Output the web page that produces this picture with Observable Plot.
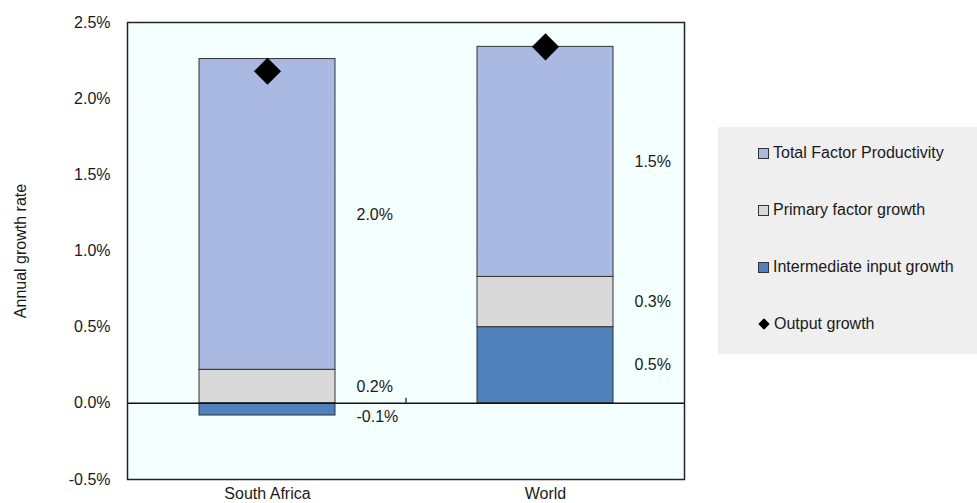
<!DOCTYPE html>
<html>
<head>
<meta charset="utf-8">
<script src="https://cdn.jsdelivr.net/npm/d3@7"></script>
<script src="https://cdn.jsdelivr.net/npm/@observablehq/plot@0.6"></script>
<style>
  html, body { margin: 0; padding: 0; background: #ffffff; }
  #wrap { position: relative; width: 977px; height: 503px; overflow: hidden;
          font-family: "Liberation Sans", Arial, sans-serif; color: #1a1a1a; }
  #chart { position: absolute; left: 0; top: 0; }
  #legend { position: absolute; left: 718px; top: 127px; width: 259px; height: 227px; background: #EFEFEF; }
  .item { position: absolute; left: 40px; height: 20px; display: flex; align-items: center; font-size: 16px; white-space: nowrap; }
  .sw { width: 9px; height: 9px; border: 1px solid #333; margin-right: 4px; flex: none; }
</style>
</head>
<body>
<div id="wrap">
  <div id="chart"></div>
  <div id="legend"></div>
</div>
<script>
const categories = ["South Africa", "World"];
const components = ["Intermediate input growth", "Primary factor growth", "Total Factor Productivity"];
const intermediate = [-0.08, 0.50];
const primary = [0.22, 0.33];
const tfp = [2.04, 1.51];
const output = [2.18, 2.34];
const yTicks = [-0.5, 0, 0.5, 1.0, 1.5, 2.0, 2.5];
const colors = ["#4F81BD", "#D9D9D9", "#A9B9E1"];
const legendOrder = ["Total Factor Productivity", "Primary factor growth", "Intermediate input growth", "Output growth"];

const series = [intermediate, primary, tfp];
const rows = categories.flatMap((c, i) => components.map((comp, k) => ({cat: c, comp, value: series[k][i]})));
const outRows = categories.map((c, i) => ({cat: c, value: output[i]}));
const pct = d => d.toFixed(1) + "%";

const midTick = (index, scales, values, dims) => {
  const x = scales.x, y = scales.y;
  const bw = typeof x.bandwidth === "function" ? x.bandwidth() : 0;
  const xm = (x(categories[0]) + x(categories[1]) + bw) / 2;
  const y0 = y(0);
  const ns = "http://www.w3.org/2000/svg";
  const line = document.createElementNS(ns, "line");
  line.setAttribute("x1", xm); line.setAttribute("x2", xm);
  line.setAttribute("y1", y0); line.setAttribute("y2", y0 - 5);
  line.setAttribute("stroke", "#111"); line.setAttribute("stroke-width", 1.2);
  return line;
};

const labelOpts = {x: "cat", y: "value", z: "comp", order: components,
  text: d => pct(d.value), dx: 89, textAnchor: "start", fill: "#1a1a1a"};

const chart = Plot.plot({
  width: 700,
  height: 503,
  marginLeft: 127,
  marginRight: 16,
  marginTop: 22,
  marginBottom: 24,
  style: {fontFamily: '"Liberation Sans", Arial, sans-serif', fontSize: "16px", color: "#1a1a1a", background: "transparent", overflow: "visible"},
  x: {domain: categories, paddingInner: 0.512, paddingOuter: 0.256, label: null, tickSize: 0, tickPadding: 8},
  y: {domain: [-0.5, 2.5], ticks: yTicks, tickFormat: pct, tickSize: 0, tickPadding: 17,
      label: "Annual growth rate", labelAnchor: "center", labelOffset: 113, labelArrow: "none"},
  color: {domain: components, range: colors},
  marks: [
    Plot.frame({fill: "#F4FFFF", stroke: "none"}),
    Plot.gridY(yTicks, {stroke: "#ffffff", strokeOpacity: 1, strokeDasharray: "2,2"}),
    Plot.barY(rows, {x: "cat", y: "value", fill: "comp", z: "comp", order: components, stroke: "#333", strokeWidth: 1}),
    Plot.ruleY([0], {stroke: "#111", strokeWidth: 1.5}),
    midTick,
    Plot.text(rows, Plot.stackY({...labelOpts, filter: d => d.value >= 0})),
    Plot.text(rows, Plot.stackY({...labelOpts, filter: d => d.value < 0, dy: 7})),
    Plot.dot(outRows, {x: "cat", y: "value", symbol: "diamond2", r: 12.2, fill: "#000", stroke: "none"}),
    Plot.frame({stroke: "#222", strokeWidth: 1.5})
  ]
});
document.getElementById("chart").appendChild(chart);

const legend = document.getElementById("legend");
const colorOf = Object.fromEntries(components.map((c, i) => [c, colors[i]]));
legendOrder.forEach((name, i) => {
  const item = document.createElement("div");
  item.className = "item";
  item.style.top = (16 + i * 57) + "px";
  const sw = document.createElement("span");
  if (colorOf[name]) {
    sw.className = "sw";
    sw.style.background = colorOf[name];
  } else {
    sw.style.cssText = "width:8px;height:8px;background:#000;transform:rotate(45deg);margin:0 6px 0 2px;flex:none;";
  }
  item.appendChild(sw);
  const t = document.createElement("span");
  t.textContent = name;
  item.appendChild(t);
  legend.appendChild(item);
});
</script>
</body>
</html>
